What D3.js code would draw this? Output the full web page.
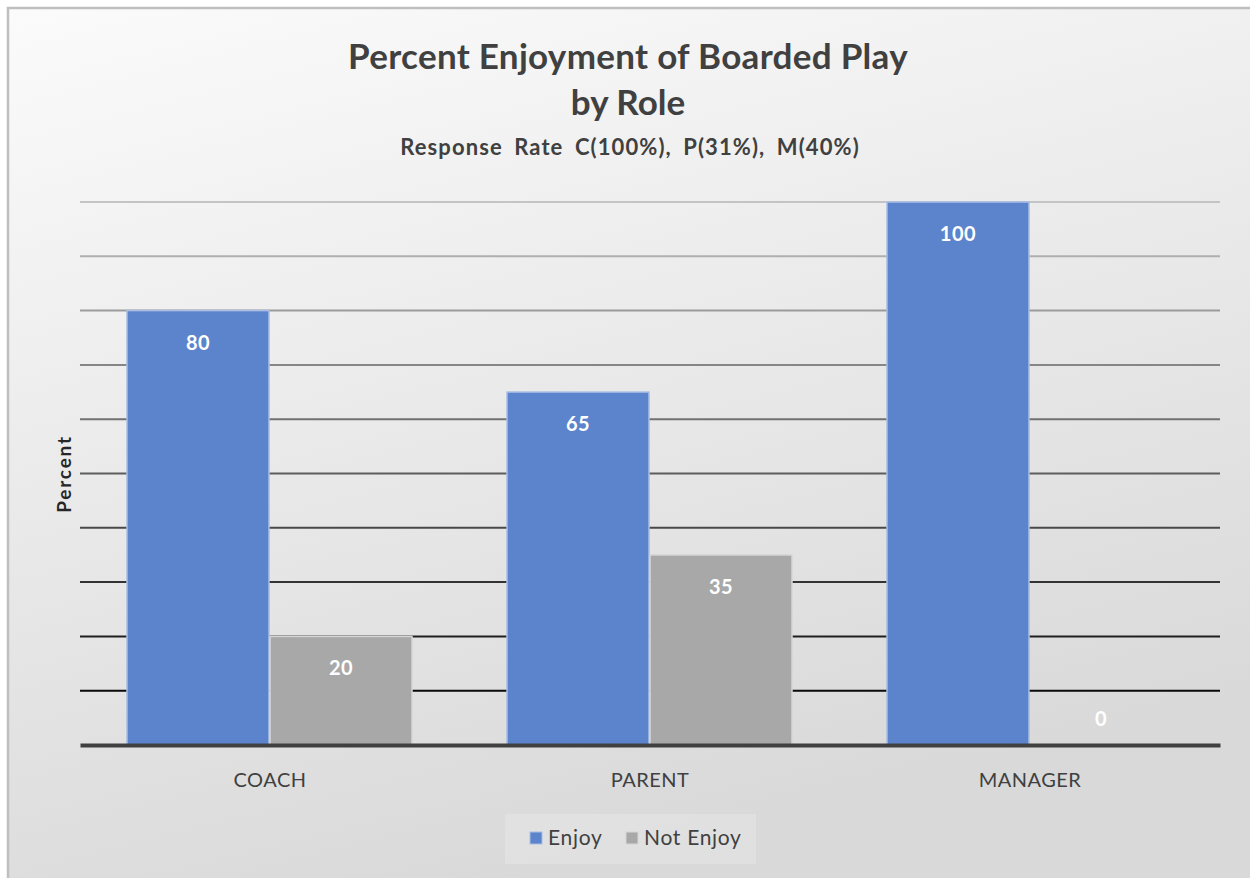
<!DOCTYPE html>
<html><head><meta charset="utf-8">
<script src="https://cdn.jsdelivr.net/npm/d3@7"></script>
<style>body{margin:0;background:#fff}svg{display:block}</style>
</head><body><div id="chart"></div>
<script>
const categories = ["COACH", "PARENT", "MANAGER"];
const seriesNames = ["Enjoy", "Not Enjoy"];
const enjoy = [80, 65, 100];
const notEnjoy = [20, 35, 0];
const yTicks = [0,10,20,30,40,50,60,70,80,90,100];

const W = 1250, H = 878;
const svg = d3.select("#chart").append("svg").attr("width", W).attr("height", H);
const defs = svg.append("defs");
const bg = defs.append("linearGradient").attr("id","bg").attr("x1","0").attr("y1","0").attr("x2","0.35").attr("y2","1");
bg.append("stop").attr("offset","0").attr("stop-color","#fbfbfb");
bg.append("stop").attr("offset","1").attr("stop-color","#d9d9d9");

svg.append("rect").attr("x",8).attr("y",8).attr("width",W+10).attr("height",H+10)
  .attr("fill","url(#bg)").attr("stroke","#bfbfbf").attr("stroke-width",2.5);

const font = "Lato, 'Open Sans', sans-serif";
const x0 = d3.scaleBand().domain(categories).range([80, 1220]).paddingInner(0).paddingOuter(0);
const x1 = d3.scaleBand().domain(seriesNames).range([47, 332]).paddingInner(0.007).paddingOuter(0);
const y = d3.scaleLinear().domain([0,100]).range([745, 202]);

const lineColor = d3.scaleLinear().domain([100, 10]).range(["#c4c4c4", "#0a0a0a"]);
svg.append("g").selectAll("line").data(yTicks.filter(t=>t>0)).join("line")
  .attr("x1", 80).attr("x2", 1220).attr("y1", d=>y(d)).attr("y2", d=>y(d))
  .attr("stroke", d=>lineColor(d)).attr("stroke-width", 2);

const colors = {"Enjoy":"#5b84cc", "Not Enjoy":"#a8a8a8"};
const strokes = {"Enjoy":"#a9bde4", "Not Enjoy":"#d6d6d6"};
const data = categories.map((c,i)=>({cat:c, vals:[{s:"Enjoy",v:enjoy[i]},{s:"Not Enjoy",v:notEnjoy[i]}]}));

const g = svg.append("g").selectAll("g").data(data).join("g").attr("transform", d=>`translate(${x0(d.cat)},0)`);
g.selectAll("rect").data(d=>d.vals).join("rect")
  .attr("x", d=>x1(d.s)).attr("width", x1.bandwidth())
  .attr("y", d=>y(d.v)).attr("height", d=>y(0)-y(d.v))
  .attr("fill", d=>colors[d.s]).attr("stroke", d=>strokes[d.s]).attr("stroke-width", d=>d.v>0?1.5:0);
g.selectAll("text").data(d=>d.vals).join("text")
  .attr("x", d=>x1(d.s)+x1.bandwidth()/2)
  .attr("y", d=>Math.min(y(d.v)+39, y(0)-19))
  .attr("text-anchor","middle").attr("fill","#fff").attr("font-family",font)
  .attr("font-weight","bold").attr("font-size",20).attr("letter-spacing","0.5px").text(d=>d.v);

// axis baseline
const xAxis = svg.append("g").attr("transform","translate(0,745)")
  .call(d3.axisBottom(x0).tickSize(0).tickPadding(28));
xAxis.select(".domain").attr("stroke","#404040").attr("stroke-width",4);
xAxis.selectAll("text").attr("font-family",font).attr("font-size",20).attr("fill","#404040")
  .attr("letter-spacing","0.5px");

// titles
svg.append("text").attr("x",628).attr("y",69).attr("text-anchor","middle").attr("font-family",font)
  .attr("font-weight","bold").attr("font-size",35).attr("letter-spacing","0.3px").attr("fill","#404040").text("Percent Enjoyment of Boarded Play");
svg.append("text").attr("x",628).attr("y",115).attr("text-anchor","middle").attr("font-family",font)
  .attr("font-weight","bold").attr("font-size",35).attr("fill","#404040").text("by Role");
svg.append("text").attr("x",630).attr("y",155).attr("text-anchor","middle").attr("font-family",font)
  .attr("font-weight","bold").attr("font-size",22).attr("letter-spacing","1.1px").attr("word-spacing","5px")
  .attr("fill","#404040").text("Response Rate C(100%), P(31%), M(40%)");

svg.append("text").attr("transform","translate(71,474) rotate(-90)").attr("text-anchor","middle")
  .attr("font-family",font).attr("font-weight","bold").attr("font-size",19).attr("letter-spacing","1.8px")
  .attr("fill","#262626").text("Percent");

// legend
svg.append("rect").attr("x",505).attr("y",814).attr("width",251).attr("height",50).attr("fill","#eeeeee").attr("opacity",0.35);
const leg = svg.append("g").selectAll("g").data(seriesNames).join("g")
  .attr("transform",(d,i)=>`translate(${i===0?530:626},832)`);
leg.append("rect").attr("width",12).attr("height",12).attr("fill",d=>colors[d]).attr("stroke",d=>strokes[d]).attr("stroke-width",1);
leg.append("text").attr("x",18).attr("y",13).attr("font-family",font).attr("font-size",21).attr("letter-spacing","0.7px").attr("fill","#404040").text(d=>d);
</script></body></html>
